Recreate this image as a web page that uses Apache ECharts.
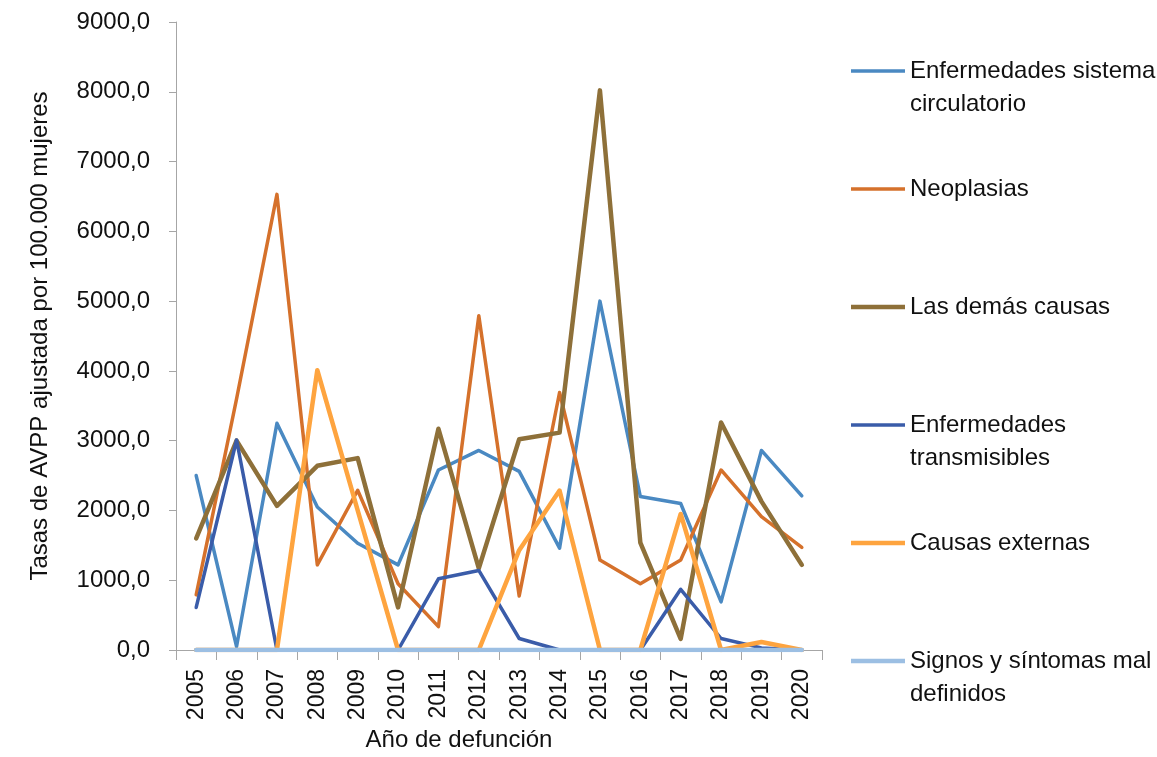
<!DOCTYPE html>
<html>
<head>
<meta charset="utf-8">
<script src="https://cdn.jsdelivr.net/npm/echarts@6/dist/echarts.min.js"></script>
<style>
  html, body { margin: 0; padding: 0; background: #fff; overflow: hidden; }
  #chart { width: 1157px; height: 757px; }
</style>
</head>
<body>
<div id="chart"></div>
<script>
// Data
const years = ['2005', '2006', '2007', '2008', '2009', '2010', '2011', '2012',
               '2013', '2014', '2015', '2016', '2017', '2018', '2019', '2020'];

const circulatorio = [2500, 50, 3250, 2050, 1530, 1220, 2580, 2860, 2560, 1460, 5000, 2200, 2100, 690, 2860, 2210];
const neoplasias = [790, 3600, 6530, 1220, 2290, 950, 335, 4790, 775, 3690, 1290, 950, 1290, 2580, 1910, 1470];
const demasCausas = [1600, 3000, 2065, 2640, 2750, 610, 3170, 1170, 3020, 3115, 8020, 1540, 160, 3260, 2130, 1220];
const transmisibles = [610, 3010, 0, 0, 0, 0, 1020, 1140, 165, 0, 0, 0, 870, 165, 30, 0];
const externas = [0, 0, 0, 4010, 2000, 0, 0, 0, 1430, 2285, 0, 0, 1950, 0, 115, 0];
const signos = [0, 0, 0, 0, 0, 0, 0, 0, 0, 0, 0, 0, 0, 0, 0, 0];

const seriesNames = ['Enfermedades sistema\ncirculatorio', 'Neoplasias', 'Las demás causas',
                     'Enfermedades\ntransmisibles', 'Causas externas', 'Signos y síntomas mal\ndefinidos'];
const seriesData = [circulatorio, neoplasias, demasCausas, transmisibles, externas, signos];
const seriesColors = ['#4a89c2', '#d5712b', '#8e7039', '#3a5ca9', '#fea43f', '#9cbfe3'];
const seriesWidths = [3.5, 3.5, 4.5, 3.5, 4.5, 4.5];

const font = "'Liberation Sans', Arial, sans-serif";
const textColor = '#111';
const axisColor = '#a6a6a6';

const chart = echarts.init(document.getElementById('chart'), null, { renderer: 'canvas' });

// One legend per entry so each sits at its own slot (Excel style).
// Two-line names get an empty first line so the marker lines up with the first text line.
const legendLineH = 33;
const iconCenters = [71, 189, 307, 425, 543, 661];
const legends = seriesNames.map((name, i) => {
    const twoLines = name.indexOf('\n') >= 0;
    return {
        data: [name],
        orient: 'vertical',
        left: 851,
        top: iconCenters[i] - (twoLines ? legendLineH * 1.5 : legendLineH / 2),
        padding: 0,
        itemGap: 0,
        icon: 'rect',
        itemWidth: 54,
        itemHeight: seriesWidths[i],
        formatter: n => (n.indexOf('\n') >= 0 ? '\n' + n : n),
        textStyle: {
            fontFamily: font,
            fontSize: 24,
            lineHeight: legendLineH,
            color: textColor
        }
    };
});

const series = seriesNames.map((name, i) => ({
    name: name,
    type: 'line',
    data: seriesData[i],
    symbol: 'none',
    color: seriesColors[i],
    lineStyle: {
        color: seriesColors[i],
        width: seriesWidths[i],
        join: 'round',
        cap: 'round'
    },
    animation: false
}));

chart.setOption({
    animation: false,
    grid: {
        left: 176,
        top: 22,
        right: 335,
        bottom: 107,
        containLabel: false,
        outerBoundsMode: 'none'
    },
    legend: legends,
    xAxis: {
        type: 'category',
        data: years,
        boundaryGap: true,
        name: 'Año de defunción',
        nameLocation: 'middle',
        nameGap: 70,
        nameTextStyle: {
            fontFamily: font,
            fontSize: 24,
            color: textColor,
            padding: [0, 80, 0, 0]
        },
        axisLine: { lineStyle: { color: axisColor, width: 1 } },
        axisTick: { show: true, length: 10, lineStyle: { color: axisColor } },
        axisLabel: {
            rotate: 90,
            interval: 0,
            margin: 19,
            fontFamily: font,
            fontSize: 23,
            color: textColor
        },
        splitLine: { show: false }
    },
    yAxis: {
        type: 'value',
        min: 0,
        max: 9000,
        interval: 1000,
        name: 'Tasas de AVPP ajustada por 100.000 mujeres',
        nameLocation: 'middle',
        nameGap: 124,
        nameRotate: 90,
        nameTextStyle: {
            fontFamily: font,
            fontSize: 24,
            color: textColor
        },
        axisLine: { show: true, lineStyle: { color: axisColor, width: 1 } },
        axisTick: { show: true, length: 7, lineStyle: { color: axisColor } },
        axisLabel: {
            margin: 26,
            fontFamily: font,
            fontSize: 24,
            color: textColor,
            formatter: v => v.toFixed(1).replace('.', ',')
        },
        splitLine: { show: false }
    },
    series: series
});
</script>
</body>
</html>
